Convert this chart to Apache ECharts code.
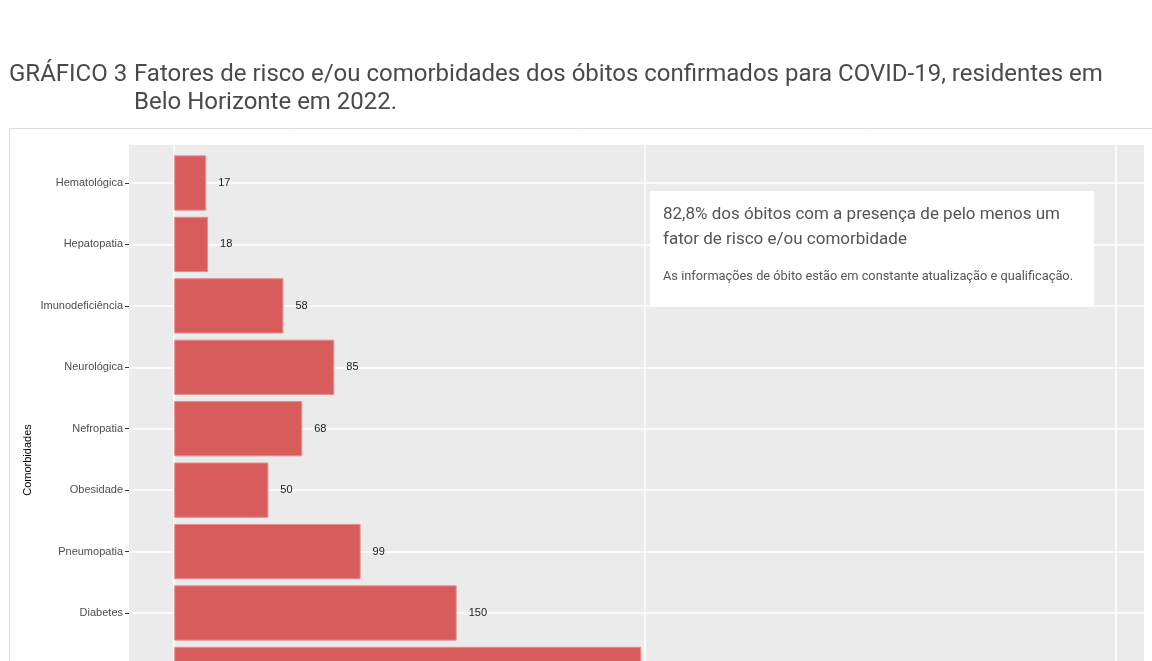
<!DOCTYPE html>
<html>
<head>
<meta charset="utf-8">
<script src="https://cdn.jsdelivr.net/npm/echarts@6/dist/echarts.min.js"></script>
<style>
  html, body { margin: 0; padding: 0; background: #fff; overflow: hidden; }
  /* o gráfico original continua abaixo do recorte de 661px */
  #myChart { width: 1152px; height: 800px; }
</style>
</head>
<body>
<div id="myChart"></div>
<script>
// dados
var categorias = ["Hematológica", "Hepatopatia", "Imunodeficiência", "Neurológica", "Nefropatia", "Obesidade", "Pneumopatia", "Diabetes", "Cardiopatia"];
var obitos = [17, 18, 58, 85, 68, 50, 99, 150, 248];
var xMin = -24, xMax = 515; // limites do eixo x (com expansão do ggplot)
var xIntervalo = 250;

var fundoPainel = "#ebebeb";
var corBarra = "#d95c5c";

var myChart = echarts.init(document.getElementById("myChart"));
var banda = 61.43;

myChart.setOption({
  animation: false,
  title: [
    {
      text: "GRÁFICO 3",
      left: 9, top: 61, padding: 0,
      textStyle: { fontFamily: "Roboto", fontSize: 24, fontWeight: "normal", color: "#4a4a4a", lineHeight: 28 }
    },
    {
      text: "Fatores de risco e/ou comorbidades dos óbitos confirmados para COVID-19, residentes em\nBelo Horizonte em 2022.",
      left: 134, top: 61, padding: 0,
      textStyle: { fontFamily: "Roboto", fontSize: 24, fontWeight: "normal", color: "#4a4a4a", lineHeight: 28 }
    }
  ],
  graphic: [
    // moldura
    { type: "line", z: 0, shape: { x1: 9, y1: 128.5, x2: 1152, y2: 128.5 }, style: { stroke: "#dcdcdc", lineWidth: 1 } },
    { type: "line", z: 0, shape: { x1: 9.5, y1: 128, x2: 9.5, y2: 800 }, style: { stroke: "#dcdcdc", lineWidth: 1 } },
    // fundo do painel
    { type: "rect", z: -10, shape: { x: 129, y: 145, width: 1015, height: 630 }, style: { fill: fundoPainel } },
    // caixa de texto
    { type: "rect", z: 100, shape: { x: 650, y: 191, width: 444, height: 116 }, style: { fill: "#fff" } },
    { type: "text", z: 101, x: 663, y: 202, style: { text: "82,8% dos óbitos com a presença de pelo menos um\nfator de risco e/ou comorbidade", fontFamily: "Roboto", fontSize: 17, lineHeight: 25, fill: "#555" } },
    { type: "text", z: 101, x: 663, y: 270, style: { text: "As informações de óbito estão em constante atualização e qualificação.", fontFamily: "Roboto", fontSize: 12.8, fill: "#555" } }
  ],
  grid: [
    { left: 174, right: 8, top: 145, height: 630 },
    { left: 129, right: 8, top: 183 - banda / 2, height: banda * categorias.length }
  ],
  xAxis: [
    {
      gridIndex: 0, type: "value", min: 0, max: xMax, interval: xIntervalo,
      axisLine: { show: false }, axisTick: { show: false }, axisLabel: { show: false },
      splitLine: { show: true, showMaxLine: false, lineStyle: { color: "#fff", width: 1.5 } }
    },
    {
      gridIndex: 1, type: "value", min: xMin, max: xMax,
      axisLine: { show: false }, axisTick: { show: false }, axisLabel: { show: false },
      splitLine: { show: false }
    }
  ],
  yAxis: [
    {
      gridIndex: 0, type: "value", min: 0, max: 1,
      name: "Comorbidades", nameLocation: "middle", nameGap: 96, nameRotate: 90,
      nameTextStyle: { fontFamily: "Liberation Sans", fontSize: 11, color: "#000" },
      axisLine: { show: false }, axisTick: { show: false }, axisLabel: { show: false },
      splitLine: { show: false },
      offset: 45
    },
    {
      gridIndex: 1, type: "category", data: categorias, inverse: true,
      axisLine: { show: false, onZero: false },
      axisTick: { show: true, alignWithLabel: true, length: 4, lineStyle: { color: "#333" } },
      axisLabel: { fontFamily: "Liberation Sans", fontSize: 11, color: "#4d4d4d", margin: 6 },
      splitLine: { show: true, alignWithLabel: true, lineStyle: { color: "#fff", width: 1.5 } }
    }
  ],
  series: [
    {
      type: "bar",
      xAxisIndex: 1, yAxisIndex: 1,
      data: obitos,
      barWidth: "90%",
      itemStyle: { color: corBarra, borderColor: "#e38d8d", borderWidth: 1 },
      label: {
        show: true, position: "right", distance: 12,
        fontFamily: "Liberation Sans", fontSize: 11, color: "#1a1a1a"
      }
    }
  ]
});
</script>
</body>
</html>
